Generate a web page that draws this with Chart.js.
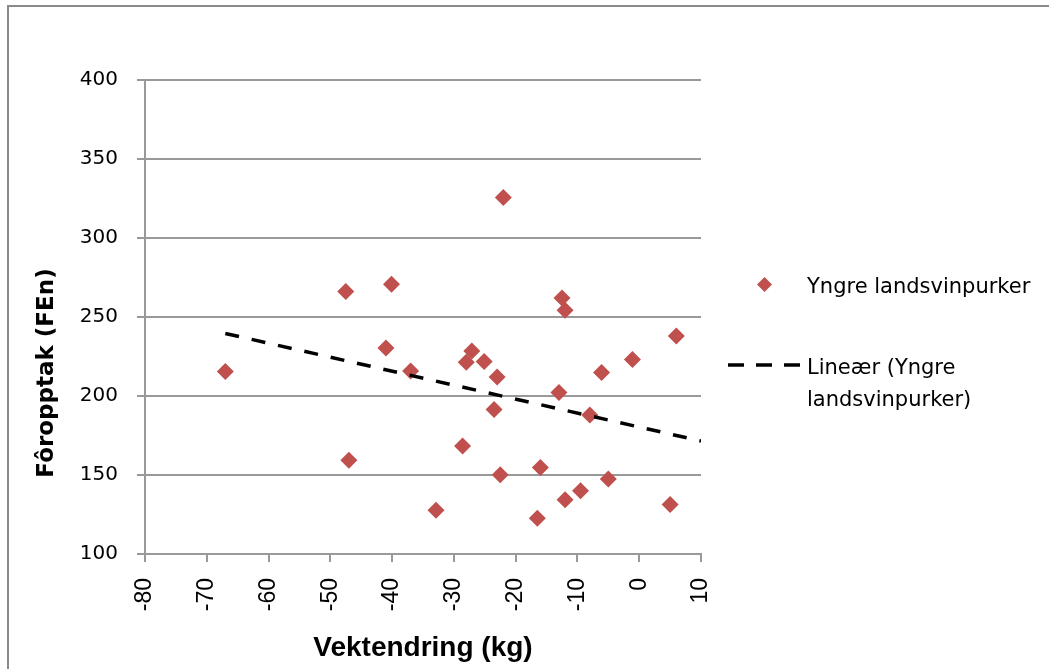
<!DOCTYPE html>
<html>
<head>
    <meta charset="utf-8">
    <title>Fôropptak og vektendring</title>
    <script src="https://cdn.jsdelivr.net/npm/chart.js"></script>
    <style>
        html, body { margin: 0; background: #fff; overflow: hidden; }
        canvas { position: absolute; left: 0; top: 0; }
        #ramme {
            position: absolute; left: 7px; top: 5px; width: 1042px; height: 664px;
            border-left: 2px solid #8a8a8a; border-top: 2px solid #8a8a8a;
            box-sizing: border-box; pointer-events: none;
        }
    </style>
</head>
<body>
    <canvas id="chart" width="1049" height="669"></canvas>
    <div id="ramme"></div>

    <script>
        // Vektendring (kg) og fôropptak (FEn) for hver purke
        const vektendring = [-67.0, -47.5, -47.0, -41.0, -40.1, -37.0, -32.9, -28.6, -28.0, -27.1,
                             -25.1, -23.5, -23.0, -22.5, -22.0, -16.5, -16.0, -13.0, -12.5, -12.0,
                             -12.0, -9.5, -8.0, -6.1, -5.0, -1.1, 5.0, 6.0];
        const foropptak = [215.5, 266.2, 159.4, 230.4, 270.8, 215.9, 127.7, 168.3, 221.4, 228.5,
                           221.8, 191.4, 212.0, 150.2, 325.6, 122.6, 154.8, 202.2, 262.1, 254.3,
                           134.3, 140.0, 188.0, 214.8, 147.4, 223.1, 131.3, 238.0];

        // Lineær trendlinje (endepunkter)
        const trendX = [-67, 10];
        const trendY = [239.6, 171.5];

        const xTicks = [-80, -70, -60, -50, -40, -30, -20, -10, 0, 10];
        const yTicks = [100, 150, 200, 250, 300, 350, 400];

        const serieNavn = 'Yngre landsvinpurker';
        const trendNavn = ['Lineær (Yngre', 'landsvinpurker)'];

        const rod = '#C0504D';
        const gridFarge = '#999999';

        // y-aksetittel og forklaring tegnes ved siden av plottet
        const sideTekst = {
            id: 'sideTekst',
            afterDraw(chart) {
                const c = chart.ctx;
                c.save();
                c.fillStyle = '#000';

                c.save();
                c.translate(47, 373);
                c.rotate(-Math.PI / 2);
                c.font = 'bold 23px "DejaVu Sans"';
                c.textAlign = 'center';
                c.textBaseline = 'middle';
                c.fillText('Fôropptak (FEn)', 0, 0);
                c.restore();

                // punktserie
                const px = 764.5, py = 284.5, r = 7.5;
                c.fillStyle = rod;
                c.beginPath();
                c.moveTo(px, py - r);
                c.lineTo(px + r, py);
                c.lineTo(px, py + r);
                c.lineTo(px - r, py);
                c.closePath();
                c.fill();

                // trendlinje
                c.strokeStyle = '#000';
                c.lineWidth = 3.5;
                c.setLineDash([16, 12]);
                c.beginPath();
                c.moveTo(728, 365);
                c.lineTo(801, 365);
                c.stroke();
                c.setLineDash([]);

                c.fillStyle = '#000';
                c.font = '21px "DejaVu Sans"';
                c.textAlign = 'left';
                c.textBaseline = 'alphabetic';
                c.fillText(serieNavn, 807, 292.5);
                c.fillText(trendNavn[0], 807, 374);
                c.fillText(trendNavn[1], 807, 406);
                c.restore();
            }
        };

        const ctx = document.getElementById('chart').getContext('2d');
        new Chart(ctx, {
            type: 'scatter',
            data: {
                datasets: [{
                    label: serieNavn,
                    data: vektendring.map((x, i) => ({ x: x, y: foropptak[i] })),
                    pointStyle: 'rectRot',
                    pointRadius: 8.5,
                    backgroundColor: rod,
                    borderColor: rod,
                    borderWidth: 0,
                    order: 1
                }, {
                    label: trendNavn.join(' '),
                    data: trendX.map((x, i) => ({ x: x, y: trendY[i] })),
                    showLine: true,
                    borderColor: '#000',
                    borderWidth: 3.5,
                    borderDash: [14, 13],
                    pointRadius: 0,
                    fill: false,
                    order: 0
                }]
            },
            options: {
                responsive: false,
                animation: false,
                layout: { padding: { left: 0, right: 348, top: 80, bottom: 0 } },
                plugins: {
                    legend: { display: false },
                    tooltip: { enabled: false }
                },
                scales: {
                    x: {
                        type: 'linear',
                        min: -80,
                        max: 10,
                        afterBuildTicks: s => { s.ticks = xTicks.map(v => ({ value: v })); },
                        afterFit: s => { s.height = 115; s.paddingLeft = 0; s.paddingRight = 0; },
                        grid: { drawOnChartArea: false, tickLength: 8, color: gridFarge, lineWidth: 2 },
                        border: { color: gridFarge, width: 2 },
                        ticks: {
                            minRotation: 90, maxRotation: 90, autoSkip: false, padding: 16,
                            color: '#000', font: { family: 'Liberation Sans', size: 23 }
                        },
                        title: {
                            display: true,
                            text: 'Vektendring (kg)',
                            color: '#000',
                            font: { family: 'Liberation Sans', size: 28, weight: 'bold' },
                            padding: { top: 0, bottom: 4 }
                        }
                    },
                    y: {
                        min: 100,
                        max: 400,
                        afterBuildTicks: s => { s.ticks = yTicks.map(v => ({ value: v })); },
                        afterFit: s => { s.width = 145; },
                        grid: { tickLength: 8, color: gridFarge, lineWidth: 2 },
                        border: { color: gridFarge, width: 2 },
                        ticks: { padding: 19, color: '#000', font: { family: 'DejaVu Sans', size: 20 } }
                    }
                }
            },
            plugins: [sideTekst]
        });
    </script>
</body>
</html>
